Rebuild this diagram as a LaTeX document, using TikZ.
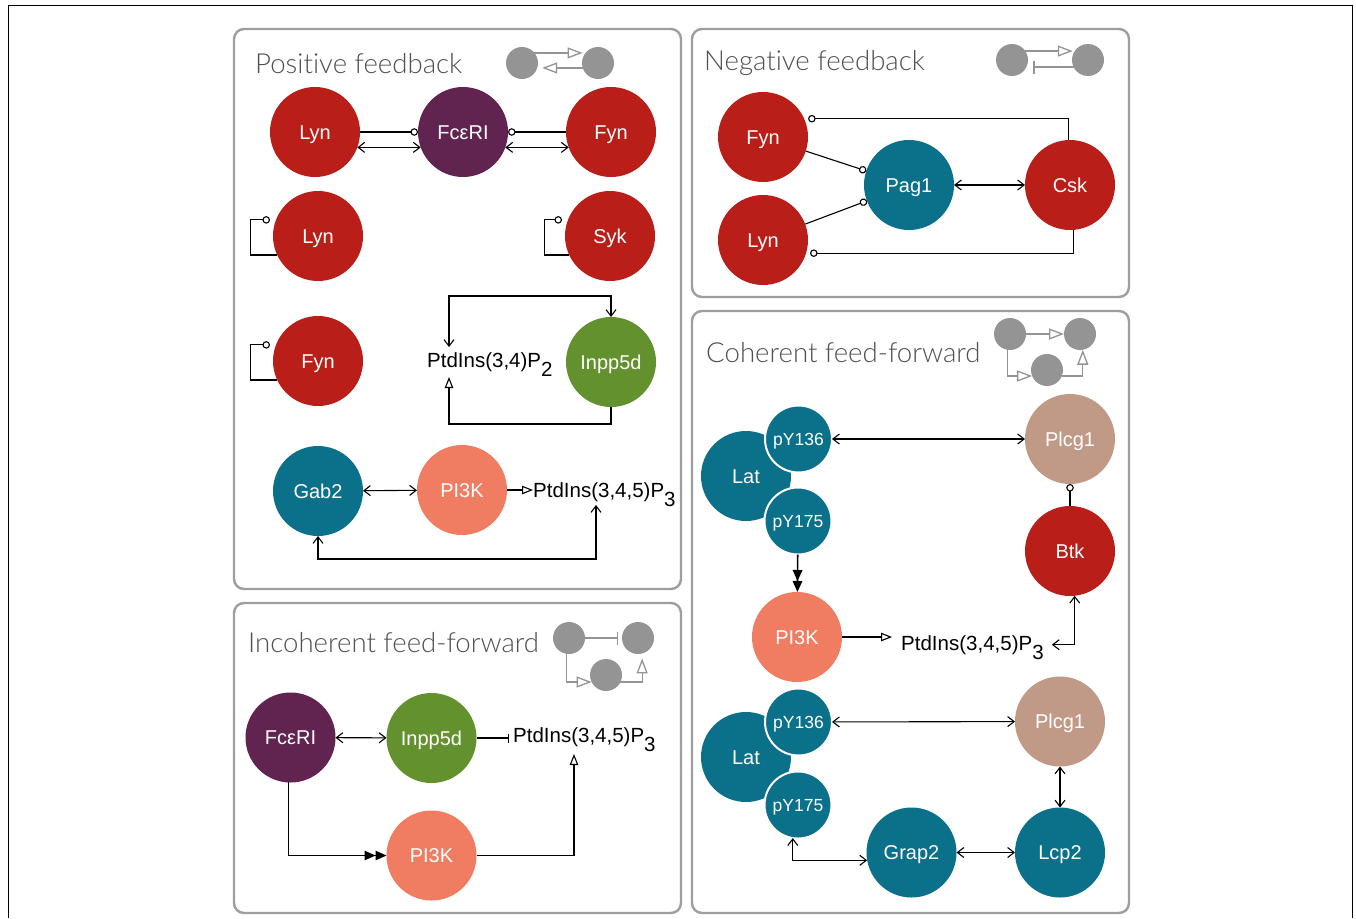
\documentclass[tikz,border=0pt]{standalone}
\usepackage{fontspec}
\setmainfont{Liberation Sans}
\newfontfamily\lightfont{Lato Light}[Ligatures=CommonOff]
\usetikzlibrary{arrows.meta}
\definecolor{cred}{RGB}{185,30,24}
\definecolor{cpur}{RGB}{97,35,80}
\definecolor{cteal}{RGB}{11,112,138}
\definecolor{cgreen}{RGB}{99,145,45}
\definecolor{csal}{RGB}{240,124,98}
\definecolor{ctan}{RGB}{192,154,134}
\definecolor{cgray}{RGB}{148,148,148}
\definecolor{cpanel}{RGB}{158,158,158}
\definecolor{ctitle}{RGB}{80,80,80}
\newcommand\mysub[1]{\raisebox{-9pt}[0pt][0pt]{#1}}
\tikzset{
 tBarb/.tip={Straight Barb[length=6.5pt,width=10pt]},
 tTri/.tip={Triangle[open,length=11pt,width=8.5pt]},
 tDot/.tip={Circle[open,length=7.5pt]},
 tBar/.tip={Bar[width=9pt]},
 tFill/.tip={Triangle[length=11pt,width=9.5pt]Triangle[length=11pt,width=9.5pt]},
 tGTri/.tip={Triangle[open,length=15pt,width=11pt]},
 tGBar/.tip={Bar[width=13pt]},
}
\begin{document}
\begin{tikzpicture}[x=1pt,y=-1pt,
 prot/.style={circle,minimum size=90pt,inner sep=0pt,outer sep=0pt,text=white,text height=14pt,text depth=0pt,font=\fontsize{20}{22}\selectfont},
 site/.style={circle,minimum size=67pt,inner sep=0pt,outer sep=0pt,text=white,fill=cteal,draw=white,line width=2pt,text height=12.5pt,text depth=0pt,font=\fontsize{17.5}{20}\selectfont},
 icon/.style={circle,fill=cgray,minimum size=32pt,inner sep=0pt,outer sep=0pt},
 title/.style={anchor=base west,inner sep=0pt,text=ctitle,font=\lightfont\fontsize{27.6}{30}\selectfont},
 chem/.style={anchor=base west,inner sep=0pt,font=\fontsize{20.5}{22}\selectfont},
 panel/.style={draw=cpanel,line width=2.4pt,rounded corners=10pt},
 edge/.style={line width=1.1pt},
 dbl/.style={edge,tBarb-tBarb},
 act/.style={edge,-tTri},
 inh/.style={edge,-tDot},
 blk/.style={edge,-tBar},
 ffill/.style={edge,-tFill},
 gact/.style={draw=cgray,line width=1.3pt,-tGTri},
 gblk/.style={draw=cgray,line width=1.3pt,-tGBar},
]
\fill[white] (0,0) rectangle (1356,918);
\useasboundingbox (0,0) rectangle (1356,918);
\draw[line width=0.8pt] (8,918) -- (8,5) -- (1352,5) -- (1352,918);

% ---------------- Positive feedback
\draw[panel] (234,29) rectangle (681,589);
\node[title] (tpos) at (255,73) {Positive feedback};
\node[icon] (pa) at (522,63) {};
\node[icon] (pb) at (598,63) {};
\draw[gact,shorten >=3pt] (pa.39) -- (pb.141);
\draw[gact,shorten >=5pt] (pb.198) -- (pa.-18);

\node[prot,fill=cred] (lyn1) at (315,132) {Lyn};
\node[prot,fill=cpur] (fce1) at (463,132) {FcεRI};
\node[prot,fill=cred] (fyn1) at (611,132) {Fyn};
\node[prot,fill=cred] (lyn2) at (318,236) {Lyn};
\node[prot,fill=cred] (syk) at (610,236) {Syk};
\node[prot,fill=cred] (fyn2) at (318,361) {Fyn};
\node[prot,fill=cgreen] (inpp1) at (611,362) {Inpp5d};
\node[chem] (pip2) at (427,367) {PtdIns(3,4)P\mysub{2}};
\node[prot,fill=cteal] (gab2) at (318,491) {Gab2};
\node[prot,fill=csal] (pi3k1) at (462,490) {PI3K};
\node[chem] (pip3a) at (533,497) {PtdIns(3,4,5)P\mysub{3}};

\draw[inh] (lyn1.east) -- (fce1.west);
\draw[dbl] (lyn1.-20) -- (fce1.200);
\draw[inh] (fyn1.west) -- (fce1.east);
\draw[dbl] (fce1.-20) -- (fyn1.200);
\draw[inh,shorten >=6pt] (lyn2.205) -- ++(-27,0) |- (lyn2.159);
\draw[inh,shorten >=6pt] (syk.205) -- ++(-25,0) |- (syk.159);
\draw[inh,shorten >=6pt] (fyn2.205) -- ++(-27,0) |- (fyn2.159);
\coordinate (p2t) at (449,347);
\coordinate (p2b) at (449,377);
\draw[dbl] (p2t) -- ++(0,-51) -| (inpp1.north);
\draw[act] (inpp1.south) -- ++(0,17) -| (p2b);
\draw[dbl] (gab2) -- (pi3k1);
\draw[act] (pi3k1.east) -- (pip3a.west |- pi3k1.east);
\coordinate (p3ab) at (596,505);
\draw[dbl] (gab2.south) -- ++(0,23) -| (p3ab);

% ---------------- Negative feedback
\draw[panel] (692,29) rectangle (1129,297);
\node[title] (tneg) at (704,70) {Negative feedback};
\node[icon] (na) at (1012,60) {};
\node[icon] (nb) at (1088,60) {};
\draw[gact,shorten >=2pt] (na.34) -- (nb.146);
\draw[gblk,shorten >=7pt] (nb.206) -- (na.-26);

\node[prot,fill=cred] (fyn3) at (763,137) {Fyn};
\node[prot,fill=cred] (lyn3) at (763,240) {Lyn};
\node[prot,fill=cteal] (pag1) at (909,185) {Pag1};
\node[prot,fill=cred] (csk) at (1070,185) {Csk};
\draw[inh] (fyn3) -- (pag1);
\draw[inh] (lyn3) -- (pag1);
\draw[dbl] (pag1) -- (csk);
\draw[inh,shorten >=4pt] (csk.92) |- (fyn3.24);
\draw[inh,shorten >=4pt] (csk.-85) |- (lyn3.-17);

% ---------------- Coherent feed-forward
\draw[panel] (692,311) rectangle (1129,913);
\node[title] (tcoh) at (706,362) {Coherent feed-forward};
\node[icon] (k1) at (1010,334) {};
\node[icon] (k2) at (1080,334) {};
\node[icon] (k3) at (1047,370) {};
\draw[gact] (k1) -- (k2);
\draw[gact] (k1.-100) |- (k3.202);
\draw[gact] (k3.-22) -| (k2.-80);

\node[prot,fill=cteal] (lat1) at (746,476) {Lat};
\node[site] (py136a) at (798.5,439) {pY136};
\node[site] (py175a) at (798,521) {pY175};
\node[prot,fill=ctan] (plcg1a) at (1070,439) {Plcg1};
\node[prot,fill=cred] (btk) at (1070,551) {Btk};
\node[prot,fill=csal] (pi3k3) at (797,637) {PI3K};
\node[chem] (pip3c) at (901,650) {PtdIns(3,4,5)P\mysub{3}};
\draw[dbl] (py136a) -- (plcg1a);
\draw[inh] (btk) -- (plcg1a);
\draw[ffill,line width=1.6pt] (py175a) -- (pi3k3);
\draw[act,shorten >=9pt] (pi3k3.east) -- (pip3c.west |- pi3k3.east);
\draw[dbl] ([xshift=8pt]pip3c.east) -| (btk.-84);

\node[prot,fill=cteal] (lat2) at (746,757) {Lat};
\node[site] (py136b) at (798.5,722) {pY136};
\node[site] (py175b) at (798,805) {pY175};
\node[prot,fill=ctan] (plcg1b) at (1060,721.5) {Plcg1};
\node[prot,fill=cteal] (grap2) at (911.5,852.5) {Grap2};
\node[prot,fill=cteal] (lcp2) at (1060,852.5) {Lcp2};
\draw[dbl] (py136b) -- (plcg1b);
\draw[dbl] (plcg1b) -- (lcp2);
\draw[dbl] (py175b.-99) |- (grap2.190);
\draw[dbl] (grap2) -- (lcp2);

% ---------------- Incoherent feed-forward
\draw[panel] (234,603) rectangle (681,913);
\node[title] (tinc) at (248,652) {Incoherent feed-forward};
\node[icon] (m1) at (569,638) {};
\node[icon] (m2) at (638,638) {};
\node[icon] (m3) at (606,675) {};
\draw[gblk,shorten >=4pt] (m1) -- (m2);
\draw[gact] (m1.-100) |- (m3.206);
\draw[gact,shorten >=5pt] (m3.-26) -| (m2.-75);

\node[prot,fill=cpur] (fce2) at (290.5,737.5) {FcεRI};
\node[prot,fill=cgreen] (inpp2) at (431.5,738) {Inpp5d};
\node[prot,fill=csal] (pi3k2) at (431.5,855.5) {PI3K};
\node[chem] (pip3b) at (513,742) {PtdIns(3,4,5)P\mysub{3}};
\draw[dbl] (fce2) -- (inpp2);
\draw[blk,shorten >=4pt] (inpp2.east) -- (pip3b.west |- inpp2.east);
\draw[ffill] (fce2.-92) |- (pi3k2.west);
\coordinate (p3bb) at (574,754);
\draw[act] (pi3k2.east) -| (p3bb);
\end{tikzpicture}
\end{document}
